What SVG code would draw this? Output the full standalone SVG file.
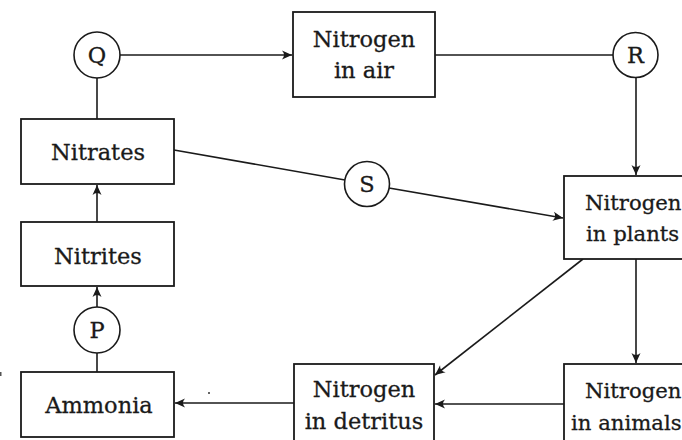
<svg xmlns="http://www.w3.org/2000/svg" width="682" height="440" viewBox="0 0 682 440">
<defs>
<style>
.box{fill:#fff;stroke:#1a1a1a;stroke-width:1.8}
.circ{fill:#fff;stroke:#1a1a1a;stroke-width:1.6}
.t{font-family:"DejaVu Serif","Liberation Serif",serif;font-size:22.5px;fill:#1a1a1a;stroke:#1a1a1a;stroke-width:0.3;text-anchor:middle}
.s{text-anchor:start;font-size:21.2px}
.c{fill:none;stroke:#1a1a1a;stroke-width:1.6}
</style>
<marker id="ah" viewBox="-11 -6 12 12" refX="0" refY="0" markerWidth="12" markerHeight="12" markerUnits="userSpaceOnUse" orient="auto">
<path d="M0,0 L-10,-4.5 Q-6,0 -10,4.5 Z" fill="#1a1a1a"/>
</marker>
</defs>
<rect width="682" height="440" fill="#fff"/>
<g id="connectors">
<line class="c" x1="120" y1="55" x2="292" y2="55" marker-end="url(#ah)"/>
<line class="c" x1="435" y1="55" x2="613" y2="55"/>
<line class="c" x1="636" y1="77" x2="636" y2="175" marker-end="url(#ah)"/>
<line class="c" x1="97" y1="119" x2="97" y2="77"/>
<line class="c" x1="97" y1="222" x2="97" y2="185" marker-end="url(#ah)"/>
<line class="c" x1="97" y1="307" x2="97" y2="287" marker-end="url(#ah)"/>
<line class="c" x1="97" y1="372" x2="97" y2="353"/>
<line class="c" x1="174" y1="150" x2="345" y2="180"/>
<line class="c" x1="389" y1="188" x2="563" y2="218" marker-end="url(#ah)"/>
<line class="c" x1="583" y1="259" x2="435" y2="375" marker-end="url(#ah)"/>
<line class="c" x1="636" y1="259" x2="636" y2="363" marker-end="url(#ah)"/>
<line class="c" x1="564" y1="404" x2="435" y2="404" marker-end="url(#ah)"/>
<line class="c" x1="294" y1="403" x2="175" y2="403" marker-end="url(#ah)"/>
</g>
<g id="Q"><circle class="circ" cx="97" cy="55" r="23"/><text class="t" x="97" y="63">Q</text></g>
<g id="R"><circle class="circ" cx="635.5" cy="55" r="22.5"/><text class="t" x="635.5" y="63">R</text></g>
<g id="S"><circle class="circ" cx="367" cy="184" r="22.5"/><text class="t" x="367" y="192">S</text></g>
<g id="P"><circle class="circ" cx="97" cy="330" r="23"/><text class="t" x="97" y="338">P</text></g>
<g id="air"><rect class="box" x="293" y="12" width="142" height="85"/><text class="t" x="364" y="47">Nitrogen</text><text class="t" x="364" y="78">in air</text></g>
<g id="nitrates"><rect class="box" x="21" y="119" width="153" height="65"/><text class="t" x="98" y="160">Nitrates</text></g>
<g id="nitrites"><rect class="box" x="21" y="222" width="153" height="64"/><text class="t" x="98" y="264">Nitrites</text></g>
<g id="ammonia"><rect class="box" x="21" y="372" width="153" height="65"/><text class="t" x="99" y="413">Ammonia</text></g>
<g id="plants"><rect class="box" x="564" y="176" width="120" height="83"/><text class="t s" x="585" y="210">Nitrogen</text><text class="t s" x="586" y="241">in plants</text></g>
<g id="detritus"><rect class="box" x="294" y="364" width="140" height="84"/><text class="t" x="364" y="397">Nitrogen</text><text class="t" x="364" y="429">in detritus</text></g>
<g id="animals"><rect class="box" x="564" y="364" width="120" height="84"/><text class="t s" x="585" y="398">Nitrogen</text><text class="t s" x="571" y="430">in animals</text></g>
<circle cx="209" cy="393" r="1" fill="#333"/>
<rect x="0" y="372" width="1.5" height="4" fill="#555"/>
</svg>
